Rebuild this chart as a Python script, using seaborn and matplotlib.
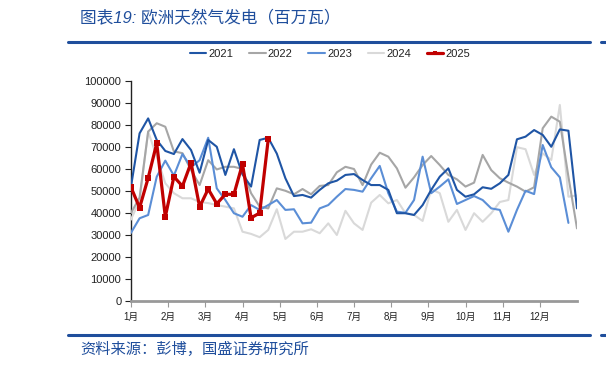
import numpy as np
import pandas as pd
import matplotlib
matplotlib.use("Agg")
import matplotlib.pyplot as plt
from matplotlib.lines import Line2D
import seaborn as sns

sns.set_style("white")
plt.rcParams['font.family'] = ['Liberation Sans', 'Noto Sans CJK SC', 'DejaVu Sans']

title = "图表19: 欧洲天然气发电（百万瓦）"
source = "资料来源：彭博，国盛证券研究所"
month_labels = ["1月", "2月", "3月", "4月", "5月", "6月", "7月", "8月", "9月", "10月", "11月", "12月"]
yticks = [0, 10000, 20000, 30000, 40000, 50000, 60000, 70000, 80000, 90000, 100000]

y2021 = [52000, 76200, 83000, 73200, 68200, 66800, 73600, 68600, 58300, 73200, 70100, 57300, 69000,
         57500, 52000, 73200, 74200, 67000, 55800, 47700, 48200, 47000, 50500, 53500, 54700, 57300,
         57700, 55000, 52700, 52700, 50500, 39900, 39900, 39100, 43600, 50500, 56500, 60300, 50500,
         47400, 48500, 51700, 51000, 53500, 57300, 73500, 74700, 77700, 75500, 70100, 78000, 77400, 42100]
y2022 = [40000, 47000, 77000, 80800, 79200, 68000, 67200, 59500, 52700, 64000, 59800, 61000, 61000,
         60000, 49000, 42900, 42100, 51200, 50100, 48500, 50900, 48500, 52300, 52700, 58500, 61000,
         60000, 52700, 62000, 67400, 65600, 60300, 51500, 56200, 61800, 65900, 61800, 57300, 55300,
         52000, 53800, 66400, 59500, 55800, 53800, 52000, 49700, 51700, 78500, 83800, 81500, 56500, 33000]
y2023 = [31000, 37600, 39100, 56500, 63800, 57000, 66800, 60800, 64000, 74200, 51200, 45900, 39900,
         38300, 43600, 41400, 43600, 45900, 41400, 41700, 35300, 35600, 42100, 43600, 47400, 50900,
         50500, 49700, 55800, 61400, 49000, 40600, 40100, 45900, 65600, 49000, 52000, 55300, 44100,
         45900, 47700, 45900, 42100, 41400, 31500, 41400, 50100, 48600, 70900, 60800, 56200, 35500]
y2024 = [37000, 45900, 77000, 65600, 53500, 49000, 46700, 46700, 45000, 44500, 43600, 42900, 42100,
         31500, 30500, 29000, 32300, 41700, 28200, 31500, 31500, 32600, 30800, 35300, 30000, 41000,
         35300, 32300, 44700, 48200, 44400, 45900, 39900, 39100, 36400, 50800, 49000, 36000, 41400,
         32300, 39900, 36000, 39900, 45000, 45900, 69900, 69000, 57300, 67100, 64100, 89100, 47400, 48000]
y2025 = [51700, 42400, 55900, 71700, 38300, 56500, 52200, 62800, 42800, 50900, 44200, 48500, 48500,
         62300, 37800, 40000, 73500]

series = {"2021": y2021, "2022": y2022, "2023": y2023, "2024": y2024, "2025": y2025}
colors = {"2021": "#1F55A5", "2022": "#A6A6A6", "2023": "#5B8ED6", "2024": "#D9D9D9", "2025": "#C00000"}
widths = {"2021": 1.5, "2022": 1.5, "2023": 1.5, "2024": 1.5, "2025": 2.3}

rows = []
for name, vals in series.items():
    for i, v in enumerate(vals):
        rows.append({"week": i, "value": v, "year": name})
df = pd.DataFrame(rows)

fig = plt.figure(figsize=(6.06, 3.66), dpi=100)
ax = fig.add_axes([131 / 606, 1 - 301 / 366, 446 / 606, 220 / 366])

for name in ["2024", "2022", "2023", "2021", "2025"]:
    sub = df[df["year"] == name]
    kw = {}
    if name == "2025":
        kw = dict(marker="s", markersize=4.5, markeredgewidth=0)
    sns.lineplot(data=sub, x="week", y="value", ax=ax, color=colors[name],
                 linewidth=widths[name], label=None, legend=False, zorder=5 if name == "2025" else 3, **kw)

ax.set_xlim(0, 52)
ax.set_ylim(0, 100000)
ax.set_yticks(yticks)
ax.set_yticklabels([str(v) for v in yticks], fontsize=8, color="#222222")
ax.set_xticks([m * 52 / 12 for m in range(12)])
ax.set_xticklabels(month_labels, fontsize=7, color="#222222")
ax.set_xlabel("")
ax.set_ylabel("")
for s in ["top", "right"]:
    ax.spines[s].set_visible(False)
ax.spines["left"].set_color("#222222")
ax.spines["left"].set_linewidth(1.0)
ax.spines["bottom"].set_color("#999999")
ax.spines["bottom"].set_linewidth(2.0)
ax.tick_params(axis="y", direction="out", length=4, width=0.8, color="#222222", pad=3, left=True)
ax.tick_params(axis="x", direction="out", length=4, width=0.8, color="#999999", pad=4, bottom=True)
ax.grid(False)

handles = []
for name in ["2021", "2022", "2023", "2024", "2025"]:
    if name == "2025":
        h = Line2D([0], [0], color=colors[name], lw=2.3, marker="s", markersize=3.5, markeredgewidth=0)
    else:
        h = Line2D([0], [0], color=colors[name], lw=1.5)
    handles.append(h)
fig.legend(handles, ["2021", "2022", "2023", "2024", "2025"], loc="center",
           bbox_to_anchor=(330 / 606, 1 - 54 / 366), ncol=5, frameon=False, fontsize=8,
           handlelength=1.5, handletextpad=0.2, columnspacing=1.4, labelcolor="#222222")

blue = "#1F4E9C"
fig.text(80 / 606, 1 - 18 / 366, title, fontsize=12, color=blue, style="italic",
         ha="left", va="center")
fig.add_artist(Line2D([68 / 606, 590 / 606], [1 - 42 / 366] * 2, color=blue, lw=2.2))
fig.add_artist(Line2D([601 / 606, 1.0], [1 - 42 / 366] * 2, color=blue, lw=2.2))
fig.add_artist(Line2D([68 / 606, 590 / 606], [1 - 335 / 366] * 2, color=blue, lw=2.2))
fig.add_artist(Line2D([601 / 606, 1.0], [1 - 335 / 366] * 2, color=blue, lw=2.2))
fig.text(80 / 606, 1 - 349 / 366, source, fontsize=11, color=blue, style="italic",
         ha="left", va="center")

fig.savefig("out.png", dpi=100)
